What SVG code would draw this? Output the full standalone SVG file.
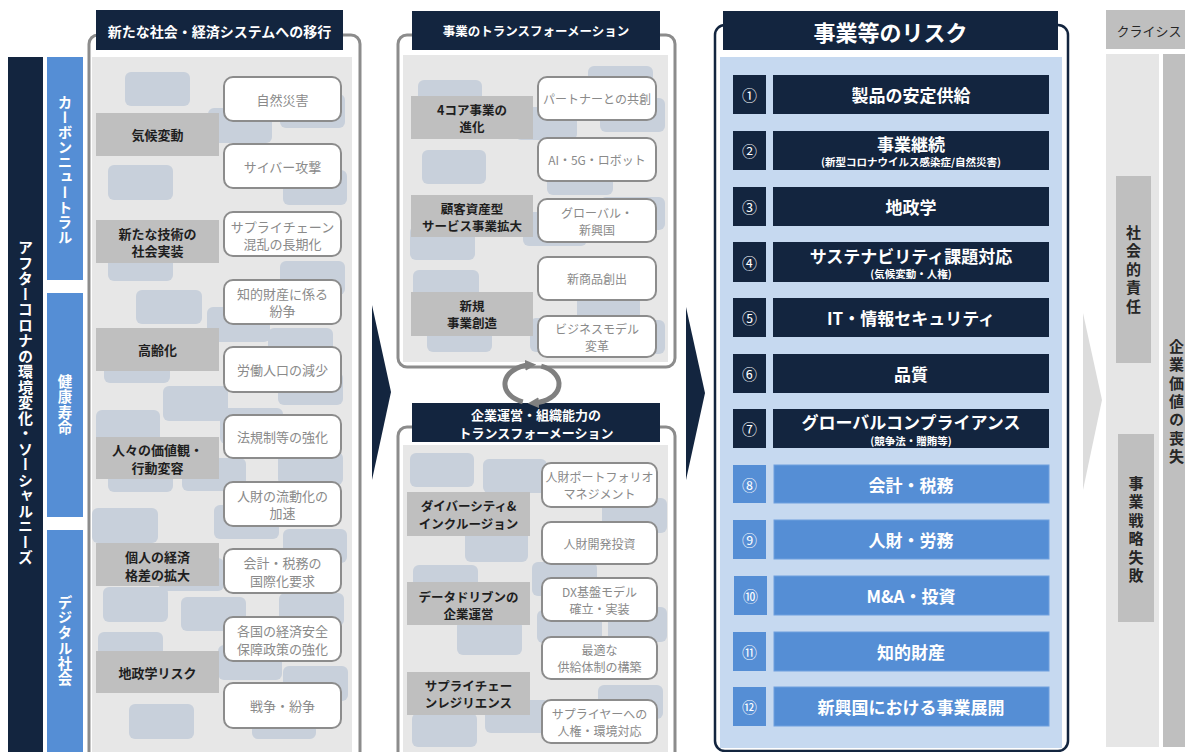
<svg xmlns="http://www.w3.org/2000/svg" width="1185" height="752" viewBox="0 0 1185 752">
<defs>
<style>
text{font-family:"Noto Sans CJK JP","Noto Sans",sans-serif;dominant-baseline:central;text-anchor:middle}
.navy{fill:#13253f}
.blue{fill:#558ed5}
.panel{fill:none;stroke:#8c8c8c;stroke-width:3}
.pfill{fill:#e7e7e7}
.deco{fill:#c8d0db}
.lbl{fill:#bfbfbf}
.wbox{fill:#fff;stroke:#8c8c8c;stroke-width:2}
.ht{fill:#fff;font-weight:bold}
.lt{fill:#1e1e1e;font-weight:bold;font-size:13px}
.mt{fill:#1e1e1e;font-weight:bold;font-size:12.5px}
.wt{fill:#8a8a8a;font-size:13px}
.wm{fill:#8a8a8a;font-size:12px}
.vt{writing-mode:vertical-rl;font-weight:bold}
.rn{fill:#fff;font-size:15px}
.rt{fill:#fff;font-weight:bold;font-size:17px}
.rs{fill:#fff;font-weight:bold;font-size:10.5px}
.g{fill:#bfbfbf}
</style>
<marker id="ah" viewBox="0 0 10 10" refX="4" refY="5" markerWidth="11" markerHeight="11" markerUnits="userSpaceOnUse" orient="auto"><path d="M0,0 L10,5 L0,10 z" fill="#808080"/></marker>
</defs>
<rect width="1185" height="752" fill="#fff"/>

<!-- left side bars -->
<g id="after-corona">
<rect class="navy" x="8" y="57" width="35" height="700"/>
<text class="vt" x="25.5" y="403" fill="#fff" font-size="15" letter-spacing="0.5">アフターコロナの環境変化・ソーシャルニーズ</text>
</g>
<g id="carbon-neutral">
<rect class="blue" x="47" y="57" width="36" height="223"/>
<text class="vt" x="65" y="170" fill="#fff" font-size="14.5" letter-spacing="0.5">カーボンニュートラル</text>
</g>
<g id="healthy-life">
<rect class="blue" x="47" y="293" width="36" height="224"/>
<text class="vt" x="65" y="405" fill="#fff" font-size="14.5" letter-spacing="0.8">健康寿命</text>
</g>
<g id="digital-society">
<rect class="blue" x="47" y="530" width="36" height="230"/>
<text class="vt" x="65" y="641" fill="#fff" font-size="14.5" letter-spacing="0.8">デジタル社会</text>
</g>

<!-- left panel -->
<g id="panel-society">
<rect class="panel" x="89" y="35" width="271" height="740" rx="9"/>
<rect class="pfill" x="92" y="57" width="260" height="700"/>
<g class="deco">
<rect x="125" y="72" width="65" height="34" rx="6"/>
<rect x="208" y="108" width="64" height="35" rx="6"/>
<rect x="280" y="94" width="65" height="34" rx="6"/>
<rect x="108" y="165" width="65" height="35" rx="6"/>
<rect x="283" y="170" width="64" height="35" rx="6"/>
<rect x="108" y="247" width="65" height="34" rx="6"/>
<rect x="280" y="261" width="65" height="34" rx="6"/>
<rect x="136" y="290" width="66" height="34" rx="6"/>
<rect x="207" y="307" width="63" height="35" rx="6"/>
<rect x="268" y="328" width="65" height="35" rx="6"/>
<rect x="104" y="350" width="66" height="33" rx="6"/>
<rect x="163" y="386" width="65" height="35" rx="6"/>
<rect x="278" y="372" width="65" height="33" rx="6"/>
<rect x="96" y="410" width="64" height="35" rx="6"/>
<rect x="220" y="408" width="63" height="36" rx="6"/>
<rect x="108" y="462" width="65" height="30" rx="6"/>
<rect x="182" y="458" width="64" height="33" rx="6"/>
<rect x="278" y="452" width="65" height="33" rx="6"/>
<rect x="92" y="508" width="66" height="35" rx="6"/>
<rect x="214" y="505" width="65" height="34" rx="6"/>
<rect x="283" y="529" width="64" height="34" rx="6"/>
<rect x="159" y="558" width="65" height="33" rx="6"/>
<rect x="103" y="587" width="65" height="35" rx="6"/>
<rect x="181" y="597" width="65" height="34" rx="6"/>
<rect x="279" y="593" width="65" height="33" rx="6"/>
<rect x="98" y="632" width="65" height="34" rx="6"/>
<rect x="218" y="645" width="64" height="35" rx="6"/>
<rect x="283" y="666" width="65" height="35" rx="6"/>
<rect x="129" y="704" width="65" height="35" rx="6"/>
<rect x="252" y="704" width="64" height="35" rx="6"/>
</g>
<rect class="navy" x="96" y="10" width="247" height="40"/>
<text class="ht" x="219.5" y="30.5" font-size="14">新たな社会・経済システムへの移行</text>
</g>

<g id="lbl-climate"><rect class="lbl" x="96" y="113" width="123" height="43"/><text class="lt" x="157.5" y="134.5">気候変動</text></g>
<g id="lbl-tech"><rect class="lbl" x="96" y="220" width="123" height="43"/><text class="lt" x="157.5" y="233">新たな技術の</text><text class="lt" x="157.5" y="250">社会実装</text></g>
<g id="lbl-aging"><rect class="lbl" x="96" y="328" width="123" height="43"/><text class="lt" x="157.5" y="349.5">高齢化</text></g>
<g id="lbl-values"><rect class="lbl" x="96" y="437" width="123" height="42"/><text class="lt" x="157.5" y="449">人々の価値観・</text><text class="lt" x="157.5" y="467">行動変容</text></g>
<g id="lbl-gap"><rect class="lbl" x="96" y="543" width="123" height="43"/><text class="lt" x="157.5" y="556">個人の経済</text><text class="lt" x="157.5" y="574">格差の拡大</text></g>
<g id="lbl-geo"><rect class="lbl" x="96" y="651" width="123" height="42"/><text class="lt" x="157.5" y="672">地政学リスク</text></g>

<g id="w-disaster"><rect class="wbox" x="224" y="77" width="117" height="44" rx="9"/><text class="wt" x="282.5" y="99">自然災害</text></g>
<g id="w-cyber"><rect class="wbox" x="224" y="144" width="117" height="44" rx="9"/><text class="wt" x="282.5" y="166">サイバー攻撃</text></g>
<g id="w-supply"><rect class="wbox" x="224" y="212" width="117" height="44" rx="9"/><text class="wt" x="282.5" y="226">サプライチェーン</text><text class="wt" x="282.5" y="243">混乱の長期化</text></g>
<g id="w-ip"><rect class="wbox" x="224" y="280" width="117" height="44" rx="9"/><text class="wt" x="282.5" y="293">知的財産に係る</text><text class="wt" x="282.5" y="310">紛争</text></g>
<g id="w-labor"><rect class="wbox" x="224" y="347" width="117" height="45" rx="9"/><text class="wt" x="282.5" y="369.5">労働人口の減少</text></g>
<g id="w-reg"><rect class="wbox" x="224" y="415" width="117" height="43" rx="9"/><text class="wt" x="282.5" y="436.5">法規制等の強化</text></g>
<g id="w-mobility"><rect class="wbox" x="224" y="482" width="117" height="44" rx="9"/><text class="wt" x="282.5" y="495">人財の流動化の</text><text class="wt" x="282.5" y="512">加速</text></g>
<g id="w-tax"><rect class="wbox" x="224" y="549" width="117" height="44" rx="9"/><text class="wt" x="282.5" y="562">会計・税務の</text><text class="wt" x="282.5" y="580">国際化要求</text></g>
<g id="w-security"><rect class="wbox" x="224" y="617" width="117" height="44" rx="9"/><text class="wt" x="282.5" y="630">各国の経済安全</text><text class="wt" x="282.5" y="648">保障政策の強化</text></g>
<g id="w-war"><rect class="wbox" x="224" y="683" width="117" height="45" rx="9"/><text class="wt" x="282.5" y="705.5">戦争・紛争</text></g>

<!-- middle top panel -->
<g id="panel-business">
<rect class="panel" x="398" y="35" width="277" height="332" rx="9"/>
<rect class="pfill" x="403" y="55" width="265" height="307"/>
<g class="deco">
<rect x="418" y="80" width="64" height="35" rx="6"/>
<rect x="588" y="66" width="65" height="34" rx="6"/>
<rect x="515" y="107" width="62" height="33" rx="6"/>
<rect x="600" y="98" width="65" height="34" rx="6"/>
<rect x="422" y="150" width="64" height="34" rx="6"/>
<rect x="547" y="162" width="66" height="33" rx="6"/>
<rect x="600" y="197" width="65" height="33" rx="6"/>
<rect x="410" y="226" width="65" height="34" rx="6"/>
<rect x="523" y="212" width="64" height="34" rx="6"/>
<rect x="413" y="270" width="66" height="34" rx="6"/>
<rect x="577" y="288" width="63" height="34" rx="6"/>
<rect x="427" y="318" width="65" height="34" rx="6"/>
<rect x="600" y="320" width="65" height="34" rx="6"/>
<rect x="530" y="318" width="60" height="34" rx="6"/>
</g>
<rect class="navy" x="412" y="11" width="248" height="39"/>
<text class="ht" x="536" y="30.5" font-size="12.5">事業のトランスフォーメーション</text>
</g>
<g id="lbl-core"><rect class="lbl" x="411" y="96" width="122" height="43"/><text class="mt" x="472" y="109">4コア事業の</text><text class="mt" x="472" y="126.5">進化</text></g>
<g id="lbl-customer"><rect class="lbl" x="411" y="195" width="122" height="42"/><text class="mt" x="472" y="208">顧客資産型</text><text class="mt" x="472" y="225.5">サービス事業拡大</text></g>
<g id="lbl-new"><rect class="lbl" x="411" y="292" width="122" height="44"/><text class="mt" x="472" y="305">新規</text><text class="mt" x="472" y="322.5">事業創造</text></g>
<g id="w-partner"><rect class="wbox" x="538" y="77" width="118" height="43" rx="9"/><text class="wm" x="597" y="98.5">パートナーとの共創</text></g>
<g id="w-ai"><rect class="wbox" x="538" y="138" width="118" height="43" rx="9"/><text class="wm" x="597" y="159.5">AI・5G・ロボット</text></g>
<g id="w-global"><rect class="wbox" x="538" y="199" width="118" height="43" rx="9"/><text class="wm" x="597" y="212">グローバル・</text><text class="wm" x="597" y="229">新興国</text></g>
<g id="w-product"><rect class="wbox" x="538" y="257" width="118" height="43" rx="9"/><text class="wm" x="597" y="278.5">新商品創出</text></g>
<g id="w-model"><rect class="wbox" x="538" y="316" width="118" height="41" rx="9"/><text class="wm" x="597" y="328">ビジネスモデル</text><text class="wm" x="597" y="345">変革</text></g>

<!-- middle bottom panel -->
<g id="panel-org">
<rect class="panel" x="398" y="427" width="277" height="345" rx="9"/>
<rect class="pfill" x="403" y="445" width="265" height="312"/>
<g class="deco">
<rect x="410" y="453" width="64" height="34" rx="6"/>
<rect x="483" y="459" width="64" height="34" rx="6"/>
<rect x="602" y="498" width="65" height="35" rx="6"/>
<rect x="465" y="527" width="63" height="35" rx="6"/>
<rect x="413" y="565" width="65" height="34" rx="6"/>
<rect x="532" y="562" width="65" height="34" rx="6"/>
<rect x="608" y="607" width="59" height="35" rx="6"/>
<rect x="457" y="620" width="65" height="35" rx="6"/>
<rect x="537" y="610" width="65" height="33" rx="6"/>
<rect x="598" y="685" width="65" height="34" rx="6"/>
<rect x="412" y="713" width="65" height="34" rx="6"/>
<rect x="485" y="700" width="65" height="33" rx="6"/>
</g>
<rect class="navy" x="412" y="403" width="248" height="39"/>
<text class="ht" x="536" y="414" font-size="13">企業運営・組織能力の</text>
<text class="ht" x="536" y="432" font-size="13">トランスフォーメーション</text>
</g>
<g id="lbl-diversity"><rect class="lbl" x="407" y="492" width="123" height="44"/><text class="mt" x="468.5" y="505.5">ダイバーシティ&amp;</text><text class="mt" x="468.5" y="523">インクルージョン</text></g>
<g id="lbl-data"><rect class="lbl" x="407" y="582" width="123" height="43"/><text class="mt" x="468.5" y="596">データドリブンの</text><text class="mt" x="468.5" y="613.5">企業運営</text></g>
<g id="lbl-resilience"><rect class="lbl" x="407" y="672" width="123" height="43"/><text class="mt" x="468.5" y="685">サプライチェー</text><text class="mt" x="468.5" y="702.5">ンレジリエンス</text></g>
<g id="w-portfolio"><rect class="wbox" x="542" y="463" width="115" height="44" rx="9"/><text class="wm" x="599.5" y="476">人財ポートフォリオ</text><text class="wm" x="599.5" y="493">マネジメント</text></g>
<g id="w-dev"><rect class="wbox" x="542" y="522" width="115" height="42" rx="9"/><text class="wm" x="599.5" y="543">人財開発投資</text></g>
<g id="w-dx"><rect class="wbox" x="542" y="578" width="115" height="43" rx="9"/><text class="wm" x="599.5" y="591">DX基盤モデル</text><text class="wm" x="599.5" y="608">確立・実装</text></g>
<g id="w-optimal"><rect class="wbox" x="542" y="637" width="115" height="42" rx="9"/><text class="wm" x="599.5" y="649">最適な</text><text class="wm" x="599.5" y="666">供給体制の構築</text></g>
<g id="w-supplier"><rect class="wbox" x="542" y="700" width="115" height="43" rx="9"/><text class="wm" x="599.5" y="713">サプライヤーへの</text><text class="wm" x="599.5" y="730">人権・環境対応</text></g>

<!-- right risk panel -->
<g id="panel-risk">
<rect x="715" y="25" width="353" height="726" rx="10" fill="none" stroke="#13253f" stroke-width="2.5"/>
<rect x="720" y="57" width="342" height="691" fill="#c6d9f0"/>
<rect class="navy" x="723" y="11" width="335" height="39"/>
<text class="ht" x="890.5" y="30.5" font-size="22">事業等のリスク</text>
</g>
<g id="risk-1"><rect class="navy" x="733" y="75" width="33" height="39"/><rect class="navy" x="773" y="75" width="276" height="39"/><text class="rn" x="749.5" y="94.5">①</text><text class="rt" x="911" y="94.5">製品の安定供給</text></g>
<g id="risk-2"><rect class="navy" x="733" y="131" width="33" height="39"/><rect class="navy" x="773" y="131" width="276" height="39"/><text class="rn" x="749.5" y="150.5">②</text><text class="rt" x="911" y="143">事業継続</text><text class="rs" x="911" y="161.5">(新型コロナウイルス感染症/自然災害)</text></g>
<g id="risk-3"><rect class="navy" x="733" y="187" width="33" height="39"/><rect class="navy" x="773" y="187" width="276" height="39"/><text class="rn" x="749.5" y="206.5">③</text><text class="rt" x="911" y="206.5">地政学</text></g>
<g id="risk-4"><rect class="navy" x="733" y="242" width="33" height="40"/><rect class="navy" x="773" y="242" width="276" height="40"/><text class="rn" x="749.5" y="262">④</text><text class="rt" x="911" y="255" font-size="16">サステナビリティ課題対応</text><text class="rs" x="911" y="273">(気候変動・人権)</text></g>
<g id="risk-5"><rect class="navy" x="733" y="298" width="33" height="39"/><rect class="navy" x="773" y="298" width="276" height="39"/><text class="rn" x="749.5" y="317.5">⑤</text><text class="rt" x="911" y="317.5">IT・情報セキュリティ</text></g>
<g id="risk-6"><rect class="navy" x="733" y="354" width="33" height="39"/><rect class="navy" x="773" y="354" width="276" height="39"/><text class="rn" x="749.5" y="373.5">⑥</text><text class="rt" x="911" y="373.5">品質</text></g>
<g id="risk-7"><rect class="navy" x="733" y="409" width="33" height="39"/><rect class="navy" x="773" y="409" width="276" height="39"/><text class="rn" x="749.5" y="428.5">⑦</text><text class="rt" x="911" y="421.5" font-size="15.5">グローバルコンプライアンス</text><text class="rs" x="911" y="440">(競争法・贈賄等)</text></g>
<g id="risk-8"><rect class="blue" x="733" y="465" width="33" height="38"/><rect class="blue" x="774" y="465" width="275" height="38" stroke="#6fa0de"/><text class="rn" x="749.5" y="484">⑧</text><text class="rt" x="911" y="484">会計・税務</text></g>
<g id="risk-9"><rect class="blue" x="733" y="520" width="33" height="39"/><rect class="blue" x="774" y="520" width="275" height="39" stroke="#6fa0de"/><text class="rn" x="749.5" y="539.5">⑨</text><text class="rt" x="911" y="539.5">人財・労務</text></g>
<g id="risk-10"><rect class="blue" x="734" y="576" width="33" height="39"/><rect class="blue" x="774" y="576" width="275" height="39" stroke="#6fa0de"/><text class="rn" x="750.5" y="595.5">⑩</text><text class="rt" x="911" y="595.5">M&amp;A・投資</text></g>
<g id="risk-11"><rect class="blue" x="733" y="632" width="33" height="39"/><rect class="blue" x="774" y="632" width="275" height="39" stroke="#6fa0de"/><text class="rn" x="749.5" y="651.5">⑪</text><text class="rt" x="911" y="651.5">知的財産</text></g>
<g id="risk-12"><rect class="blue" x="733" y="687" width="33" height="39"/><rect class="blue" x="774" y="687" width="275" height="39" stroke="#6fa0de"/><text class="rn" x="749.5" y="706.5">⑫</text><text class="rt" x="911" y="706.5">新興国における事業展開</text></g>

<!-- crisis area -->
<g id="crisis">
<rect class="g" x="1106" y="10" width="79" height="39"/>
<text x="1149" y="30" font-size="13" fill="#262626">クライシス</text>
<rect x="1106" y="54" width="53" height="693" fill="#e6e6e6"/>
<rect class="g" x="1163" y="54" width="22" height="693"/>
</g>
<g id="social-resp">
<rect class="g" x="1116" y="176" width="35" height="187"/>
<text class="vt" x="1133.5" y="271" font-size="15" fill="#262626" font-weight="normal" letter-spacing="3.5">社会的責任</text>
</g>
<g id="strategy-fail">
<rect class="g" x="1118" y="434" width="36" height="188"/>
<text class="vt" x="1136" y="531" font-size="15" fill="#262626" letter-spacing="3.4">事業戦略失敗</text>
</g>
<g id="value-loss">
<text class="vt" x="1176.5" y="403" font-size="15" fill="#262626" font-weight="normal" letter-spacing="3.3">企業価値の喪失</text>
</g>

<!-- connectors -->
<g id="connectors">
<polygon class="navy" points="372,305 391,392 372,480"/>
<polygon class="navy" points="686,307 705,393 686,480"/>
<polygon fill="#dcdcdc" points="1083,313 1102,400 1083,490"/>
<path d="M541.2,366.1 A27,19 0 0 1 534.4,402.9" fill="none" stroke="#808080" stroke-width="5" marker-end="url(#ah)"/>
<path d="M522.8,401.9 A27,19 0 0 1 529.6,365.1" fill="none" stroke="#808080" stroke-width="5" marker-end="url(#ah)"/>
</g>
</svg>
